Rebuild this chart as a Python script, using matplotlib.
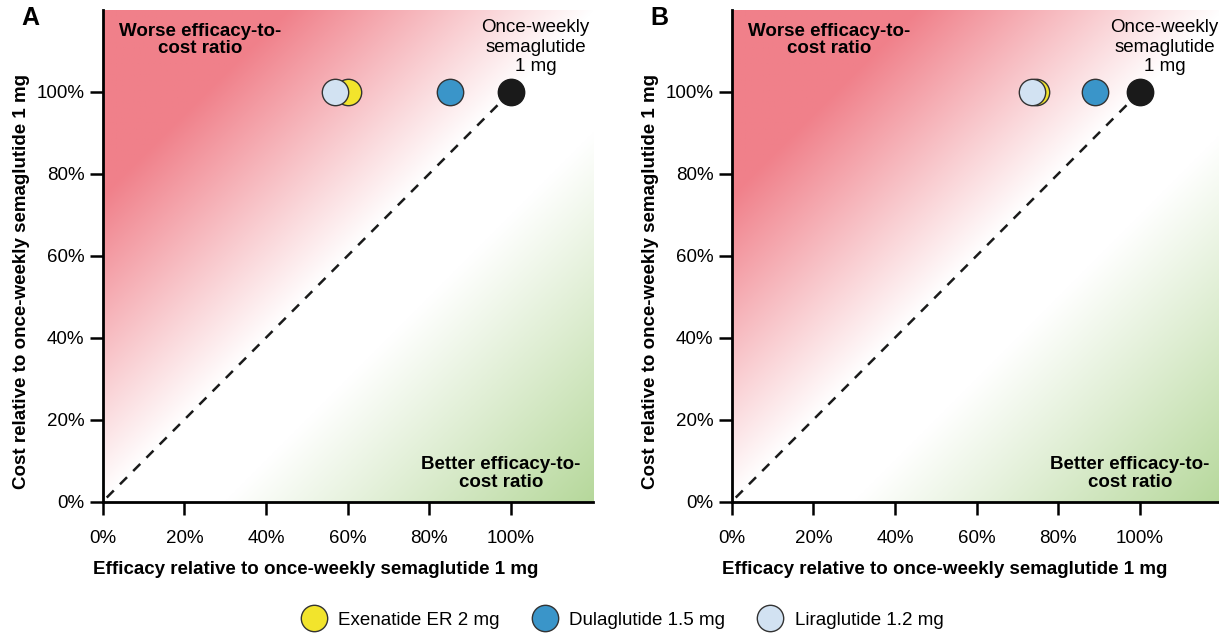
import numpy as np
import matplotlib
matplotlib.use('Agg')
import matplotlib.pyplot as plt
from matplotlib.lines import Line2D

plt.rcParams['font.family'] = ['Liberation Sans', 'DejaVu Sans']

drugs = ['Exenatide ER 2 mg', 'Dulaglutide 1.5 mg', 'Liraglutide 1.2 mg']
drug_colors = ['#F2E42C', '#3A95C9', '#D2E2F2']
# efficacy relative to semaglutide (%), cost relative is 100% for all
eff_a = [60, 85, 57]
eff_b = [74.5, 89, 73.5]
cost_a = [100, 100, 100]
cost_b = [100, 100, 100]
sema = (100, 100)

ticks = [0, 20, 40, 60, 80, 100]
tick_labels = ['0%', '20%', '40%', '60%', '80%', '100%']

FS = 13.5
MS = 19


def background(ax):
    n = 400
    g = np.linspace(0, 120, n)
    X, Y = np.meshgrid(g, g)
    d = Y - X
    red = np.array([240, 128, 138]) / 255.
    green = np.array([182, 216, 155]) / 255.
    a_r = np.clip(d / 75., 0, 1)[..., None]
    a_g = np.clip((-d - 30) / 90., 0, 1)[..., None]
    img = np.ones((n, n, 3))
    img = img * (1 - a_r) + red * a_r
    img = img * (1 - a_g) + green * a_g
    ax.imshow(img, origin='lower', extent=[0, 120, 0, 120], aspect='auto', zorder=0)


def panel(ax, eff, cost, letter):
    background(ax)
    ax.plot([1, 100], [1, 100], ls=(0, (4, 3.5)), color='#1a1a1a', lw=1.8, zorder=2)
    for i in [0, 1, 2]:  # liraglutide drawn over exenatide
        ax.plot(eff[i], cost[i], 'o', ms=MS, mfc=drug_colors[i], mec='#333333', mew=1, zorder=3)
    ax.plot(*sema, 'o', ms=MS, mfc='#1a1a1a', mec='#1a1a1a', zorder=3)
    ax.set_xlim(0, 120)
    ax.set_ylim(0, 120)
    ax.set_xticks(ticks)
    ax.set_xticklabels(tick_labels)
    ax.set_yticks(ticks)
    ax.set_yticklabels(tick_labels)
    ax.tick_params(direction='out', length=9.5, width=1.8, labelsize=FS)
    ax.tick_params(axis='x', pad=11)
    ax.tick_params(axis='y', pad=3.5)
    for s in ['top', 'right']:
        ax.spines[s].set_visible(False)
    for s in ['left', 'bottom']:
        ax.spines[s].set_linewidth(2)
    ax.set_xlabel('Efficacy relative to once-weekly semaglutide 1 mg', fontsize=FS, fontweight='bold')
    ax.set_ylabel('Cost relative to once-weekly semaglutide 1 mg', fontsize=FS, fontweight='bold')
    ax.xaxis.set_label_coords(0.435, -0.12)
    ax.yaxis.set_label_coords(-0.148, 0.447)
    ax.text(23.8, 112.6, 'Worse efficacy-to-\ncost ratio', ha='center', va='center',
            fontsize=FS, fontweight='bold', linespacing=1.05)
    ax.text(97.5, 6.8, 'Better efficacy-to-\ncost ratio', ha='center', va='center',
            fontsize=FS, fontweight='bold', linespacing=1.05)
    ax.text(106, 104, 'Once-weekly\nsemaglutide\n1 mg', ha='center', va='bottom',
            fontsize=FS, linespacing=1.2)
    ax.text(-20, 118, letter, fontsize=18, fontweight='bold', ha='left', va='center')


fig = plt.figure(figsize=(12.19, 6.34), dpi=100)
ax1 = fig.add_axes([0.0842, 0.2087, 0.402, 0.776])
ax2 = fig.add_axes([0.6002, 0.2087, 0.402, 0.776])
panel(ax1, eff_a, cost_a, 'A')
panel(ax2, eff_b, cost_b, 'B')

handles = [Line2D([], [], ls='none', marker='o', ms=MS, mfc=c, mec='#333333', mew=1)
           for c in drug_colors]
fig.legend(handles, drugs, loc='center', bbox_to_anchor=(0.508, 0.022), ncol=3,
           frameon=False, fontsize=FS, handletextpad=0.3, columnspacing=1.4)

fig.savefig('out.png', dpi=100)
